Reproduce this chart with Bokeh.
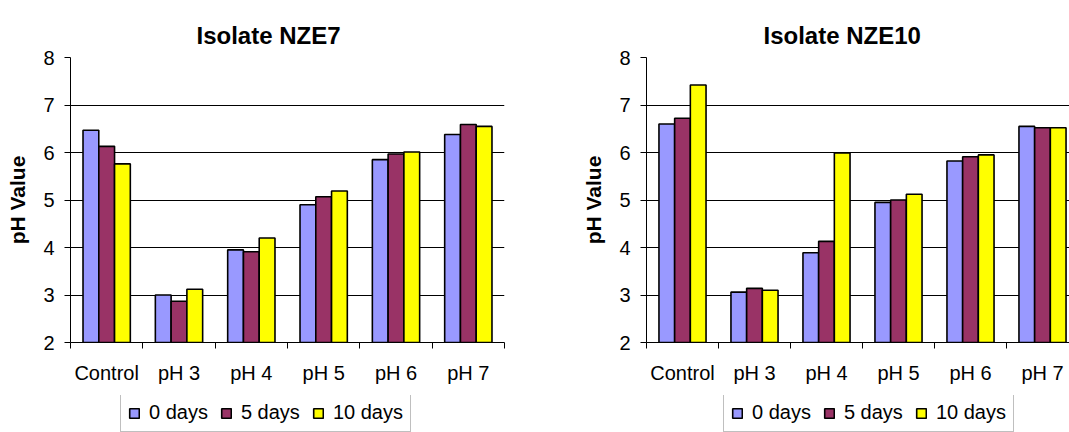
from bokeh.plotting import figure
from bokeh.models import ColumnDataSource, FixedTicker, Legend, LegendItem, Range1d
from bokeh.transform import dodge
from bokeh.layouts import row, column
from bokeh.embed import file_html
from bokeh.resources import INLINE

categories = ["Control", "pH 3", "pH 4", "pH 5", "pH 6", "pH 7"]
series = ["0 days", "5 days", "10 days"]
colors = ["#9999FF", "#993366", "#FFFF00"]

nze7_0 = [6.47, 3.00, 3.95, 4.90, 5.85, 6.38]
nze7_5 = [6.13, 2.87, 3.91, 5.07, 5.97, 6.59]
nze7_10 = [5.76, 3.12, 4.20, 5.19, 6.01, 6.55]

nze10_0 = [6.60, 3.06, 3.89, 4.95, 5.82, 6.55]
nze10_5 = [6.72, 3.14, 4.13, 5.00, 5.91, 6.52]
nze10_10 = [7.42, 3.10, 5.99, 5.12, 5.95, 6.52]

y_ticks = [2, 3, 4, 5, 6, 7, 8]
y_label = "pH Value"

FONT = "Liberation Sans"
BAR_W = 0.218
CHART_H = 395
LEG_H = 37


def make_chart(title, values, width, b_left, b_right, x_end, title_offset, legend_x):
    pos = list(range(1, len(categories) + 1))
    p = figure(width=width, height=CHART_H, output_backend="svg", toolbar_location=None,
               x_range=Range1d(0.5, x_end), y_range=Range1d(y_ticks[0], y_ticks[-1]),
               min_border_left=b_left, min_border_right=b_right,
               min_border_top=57, min_border_bottom=CHART_H - 342)
    p.outline_line_color = None
    p.background_fill_color = "white"
    p.border_fill_color = "white"

    p.title.text = title
    p.title.text_font = FONT
    p.title.text_font_size = "24px"
    p.title.text_font_style = "bold"
    p.title.text_color = "black"
    p.title.align = "left"
    p.title.offset = title_offset
    p.title.standoff = 17

    src = ColumnDataSource(dict(pos=pos, cat=categories,
                                s0=values[0], s1=values[1], s2=values[2]))
    offsets = [-BAR_W, 0.0, BAR_W]
    for k, col in enumerate(colors):
        p.vbar(x=dodge("pos", offsets[k], range=p.x_range), top="s%d" % k,
               bottom=y_ticks[0], width=BAR_W, source=src,
               fill_color=col, line_color="black", line_width=1.6)

    # x axis
    xa = p.xaxis[0]
    xa.ticker = FixedTicker(ticks=pos, minor_ticks=[i - 0.5 for i in pos] + [pos[-1] + 0.5])
    xa.major_label_overrides = {i: c for i, c in zip(pos, categories)}
    xa.major_tick_out = 0
    xa.major_tick_in = 0
    xa.minor_tick_out = 6
    xa.minor_tick_in = 0
    xa.minor_tick_line_color = "black"
    xa.axis_line_color = "black"
    xa.major_label_standoff = 13
    xa.major_label_text_font = FONT
    xa.major_label_text_font_size = "20px"
    xa.major_label_text_color = "black"
    p.xgrid.visible = False

    # y axis
    ya = p.yaxis[0]
    ya.ticker = FixedTicker(ticks=y_ticks)
    ya.major_tick_out = 6
    ya.major_tick_in = 0
    ya.minor_tick_out = 0
    ya.minor_tick_in = 0
    ya.major_tick_line_color = "black"
    ya.axis_line_color = "black"
    ya.major_label_standoff = 10
    ya.major_label_text_font = FONT
    ya.major_label_text_font_size = "20px"
    ya.major_label_text_color = "black"
    ya.axis_label = y_label
    ya.axis_label_text_font = FONT
    ya.axis_label_text_font_size = "21px"
    ya.axis_label_text_font_style = "bold"
    ya.axis_label_text_color = "black"
    ya.axis_label_standoff = 11
    p.ygrid.grid_line_color = "black"
    p.ygrid.grid_line_width = 1

    # legend strip beneath the chart (same series styling); its frame aligns with the chart's
    lg = figure(width=width, height=LEG_H, output_backend="svg", toolbar_location=None,
                x_range=Range1d(0, 1), y_range=Range1d(0, 1),
                x_axis_type=None, y_axis_type=None,
                min_border_left=0, min_border_right=0, min_border_top=0, min_border_bottom=0)
    lg.outline_line_color = None
    lg.border_fill_color = "white"
    lg.background_fill_color = "white"
    lg.xgrid.visible = False
    lg.ygrid.visible = False
    items = []
    for name, col in zip(series, colors):
        # key-only renderer: a single tiny entry that sits beneath the legend box
        key_src = ColumnDataSource(dict(x=[0.5], top=[0.5], bottom=[0.45]))
        r = lg.vbar(x="x", top="top", bottom="bottom", width=0.01, source=key_src,
                    fill_color=col, line_color="black", line_width=1.6)
        items.append(LegendItem(label=name, renderers=[r], index=0))
    legend = Legend(items=items, orientation="horizontal", location=(legend_x, 0),
                    border_line_color="#808080", border_line_width=1,
                    background_fill_color="white", background_fill_alpha=1,
                    label_text_font=FONT, label_text_font_size="20px",
                    label_text_color="black",
                    glyph_width=12, glyph_height=12, label_standoff=9,
                    spacing=12, padding=7, margin=0, label_height=23)
    lg.add_layout(legend)
    return column(p, lg, spacing=0)


c1 = make_chart("Isolate NZE7", [nze7_0, nze7_5, nze7_10], 530, 70, 26, 6.5, 126, 50)
c2 = make_chart("Isolate NZE10", [nze10_0, nze10_5, nze10_10], 539, 116, 0,
                0.5 + 423 / 72.0, 117, 77)

layout = row(c1, c2, spacing=0)
open("out.html", "w").write(file_html(layout, INLINE))
